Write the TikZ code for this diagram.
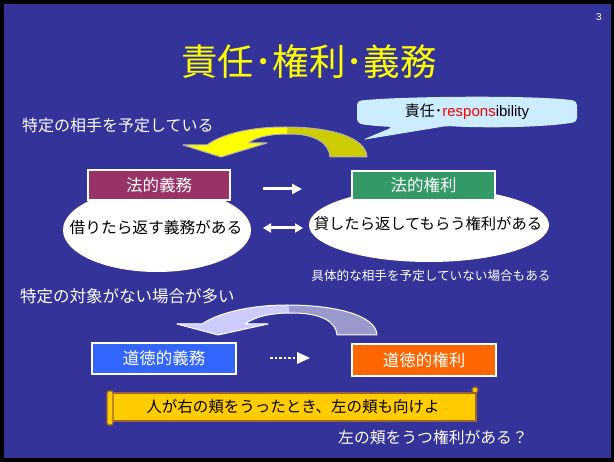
\documentclass[tikz,border=0pt]{standalone}
\usepackage{fontspec}
\setmainfont{Noto Sans CJK JP}
\newfontfamily\latinsans{Liberation Sans}
\usetikzlibrary{arrows.meta,shapes.geometric}
\definecolor{bgblue}{HTML}{333399}
\definecolor{maroonbox}{HTML}{993366}
\definecolor{greenbox}{HTML}{339966}
\definecolor{bluebox}{HTML}{3366FF}
\definecolor{orangebox}{HTML}{FF6600}
\definecolor{arryel}{HTML}{FFFF00}
\definecolor{arrolive}{HTML}{CCCC00}
\definecolor{arrlav}{HTML}{CCCCFF}
\definecolor{arrlavdark}{HTML}{9999CC}
\definecolor{callbg}{HTML}{CCECFF}
\definecolor{scrollgold}{HTML}{FFCC00}
\definecolor{scrollbrown}{HTML}{996633}
\newcommand\myfs[1]{\fontsize{#1}{#1}\selectfont}
\begin{document}
\begin{tikzpicture}[x=1pt,y=-1pt,
  wtext/.style={text=white, inner sep=0pt, anchor=center},
  btext/.style={text=black, inner sep=0pt, anchor=center},
  labelbox/.style={draw=white, line width=1.5pt, minimum width=#1, inner sep=0pt, text=white, font=\myfs{16.5pt}},
  oval/.style={ellipse, fill=white, inner sep=0pt},
  whitearrow/.style={draw=white, line width=3pt},
]
\useasboundingbox (0,0) rectangle (614,462);
\fill[black] (0,0) rectangle (614,462);
\fill[bgblue] (4,4) rectangle (611,458);

% page number and title
\node[wtext, font=\latinsans\myfs{10pt}] (pnum) at (599,17) {3};
\node[inner sep=0pt, text=arryel, font=\myfs{36.5pt}] (title) at (309,62) {責任･権利･義務};

% left label
\node[wtext, anchor=west, font=\myfs{16pt}] (lab1) at (22,125) {特定の相手を予定している};

% yellow curved arrow
\fill[arrolive] (367,157) .. controls (366,137) and (330,127) .. (285,127) .. controls (250,127) and (222,134) .. (207,145) -- (183,145) -- (221,157) -- (267,143) -- (248,143) .. controls (258,136) and (272,134) .. (290,134) .. controls (315,134) and (329,143) .. (330,157) -- cycle;
\begin{scope}
\clip (0,0) rectangle (287,462);
\fill[arryel] (367,157) .. controls (366,137) and (330,127) .. (285,127) .. controls (250,127) and (222,134) .. (207,145) -- (183,145) -- (221,157) -- (267,143) -- (248,143) .. controls (258,136) and (272,134) .. (290,134) .. controls (315,134) and (329,143) .. (330,157) -- cycle;
\end{scope}
\draw[gray!60, line width=1pt, line join=round] (367,157) .. controls (366,137) and (330,127) .. (285,127) .. controls (250,127) and (222,134) .. (207,145) -- (183,145) -- (221,157) -- (267,143) -- (248,143) .. controls (258,136) and (272,134) .. (290,134) .. controls (315,134) and (329,143) .. (330,157) -- cycle;

% callout
\fill[callbg, rounded corners=4pt] (357,101) .. controls (400,96) and (540,95) .. (577,101) -- (577,122) .. controls (540,128) and (480,128) .. (447,126) -- (362,140) -- (393,127) .. controls (375,126) and (365,125) .. (357,123) -- cycle;
\node[btext, font=\myfs{15pt}] (callt) at (467,112) {責任･{\latinsans\textcolor{red}{respons}ibility}};

% upper ellipses and boxes
\node[oval, minimum width=188pt, minimum height=84pt] (e1) at (157,230) {};
\node[oval, minimum width=240pt, minimum height=74pt] (e2) at (429,225) {};
\node[labelbox=142pt, minimum height=30pt, fill=maroonbox] (b1) at (159,185) {法的義務};
\node[labelbox=143pt, minimum height=29pt, fill=greenbox] (b2) at (423.5,185.5) {法的権利};
\node[btext, font=\myfs{15.7pt}] (t1) at (156,228) {借りたら返す義務がある};
\node[btext, font=\myfs{15.3pt}] (t2) at (428,224) {貸したら返してもらう権利がある};
\node[wtext, font=\myfs{12.6pt}] (t3) at (431,276) {具体的な相手を予定していない場合もある};

% arrows between
\coordinate (a1s) at (263,189);
\coordinate (a1e) at (302,189);
\draw[whitearrow, -{Triangle[length=10pt,width=10pt]}] (a1s) -- (a1e);
\coordinate (a2s) at (263,228);
\coordinate (a2e) at (303,228);
\draw[whitearrow, {Triangle[length=8pt,width=9pt]}-{Triangle[length=8pt,width=9pt]}] (a2s) -- (a2e);

% second label
\node[wtext, anchor=west, font=\myfs{16.5pt}] (lab2) at (20,296) {特定の対象がない場合が多い};

% lavender curved arrow
\fill[arrlavdark] (377,335) .. controls (376,315) and (335,305) .. (287,305) .. controls (250,305) and (218,313) .. (202,324) -- (177,324) -- (218,335) -- (268,324) -- (245,324) .. controls (256,316) and (272,313) .. (292,313) .. controls (322,313) and (336,322) .. (337,335) -- cycle;
\begin{scope}
\clip (0,0) rectangle (289,462);
\fill[arrlav] (377,335) .. controls (376,315) and (335,305) .. (287,305) .. controls (250,305) and (218,313) .. (202,324) -- (177,324) -- (218,335) -- (268,324) -- (245,324) .. controls (256,316) and (272,313) .. (292,313) .. controls (322,313) and (336,322) .. (337,335) -- cycle;
\end{scope}
\draw[white, line width=1pt, line join=round] (377,335) .. controls (376,315) and (335,305) .. (287,305) .. controls (250,305) and (218,313) .. (202,324) -- (177,324) -- (218,335) -- (268,324) -- (245,324) .. controls (256,316) and (272,313) .. (292,313) .. controls (322,313) and (336,322) .. (337,335) -- cycle;

% moral boxes
\node[labelbox=144pt, minimum height=31pt, fill=bluebox] (b3) at (164,358.5) {道徳的義務};
\node[labelbox=144pt, minimum height=32pt, fill=orangebox] (b4) at (424,360) {道徳的権利};
\coordinate (a3s) at (270,358);
\coordinate (a3e) at (298,358);
\coordinate (a3t) at (310,358);
\draw[white, line width=2.5pt, dash pattern=on 2.5pt off 2pt] (a3s) -- (a3e);
\fill[white] (a3e) ++(-1,-6) -- (a3t) -- ++(-13,6) -- cycle;

% scroll
\filldraw[fill=scrollgold, draw=scrollbrown, line width=1.2pt] (475,390) circle (3);
\node[draw=scrollbrown, fill=scrollgold, line width=1.2pt, minimum width=366pt, minimum height=28pt, inner sep=0pt, text=black, font=\myfs{15.5pt}] (sc) at (293,407) {人が右の頬をうったとき、左の頬も向けよ};
\filldraw[fill=scrollgold, draw=scrollbrown, line width=1.2pt, rounded corners=2pt] (107,391) rectangle (113,425);

\node[wtext, font=\myfs{15.8pt}] (t4) at (433,437) {左の頬をうつ権利がある？};
\end{tikzpicture}
\end{document}
